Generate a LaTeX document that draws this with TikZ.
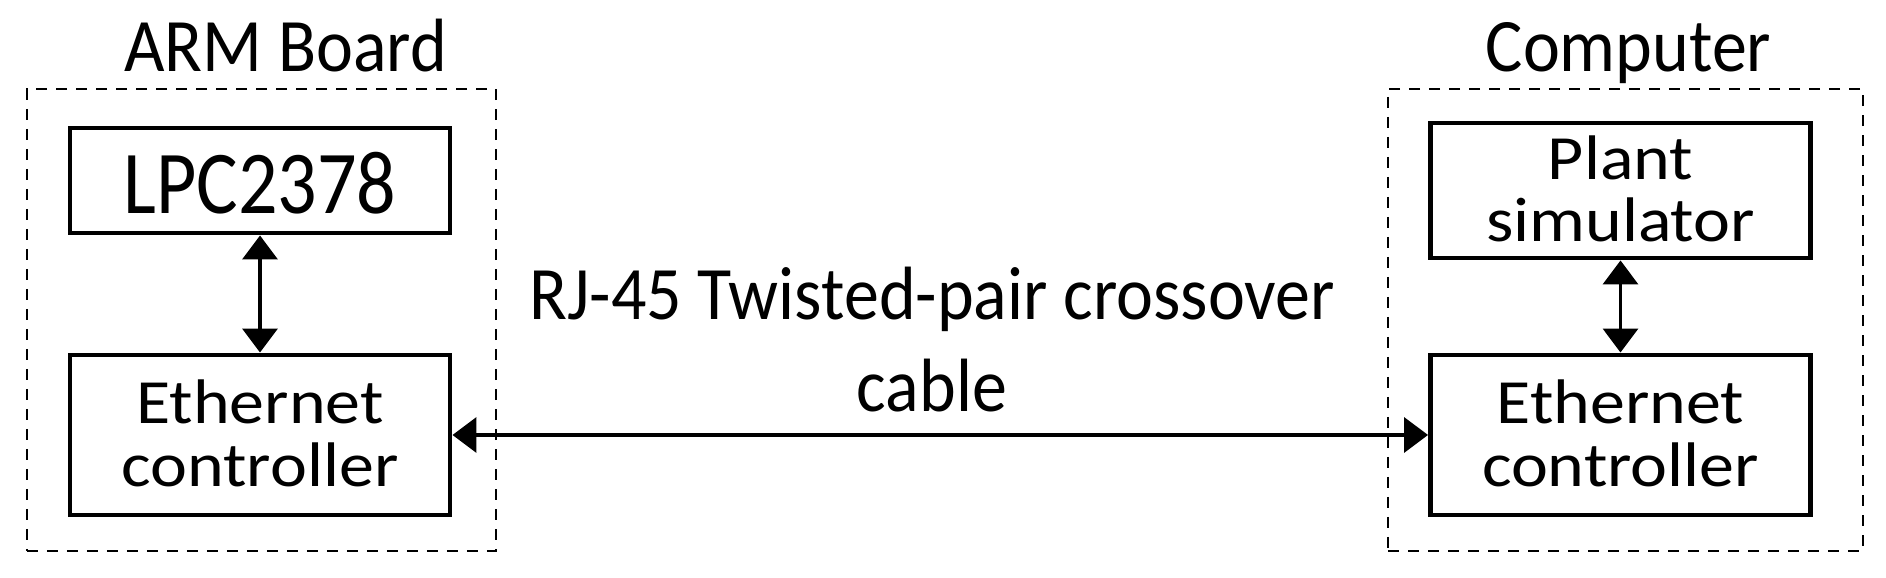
\documentclass[tikz,border=0pt]{standalone}
\usepackage{fontspec}
\setmainfont{Carlito}
\usepackage{graphicx}
\usetikzlibrary{positioning, arrows.meta}
\tikzset{
	arrow/.style={line width=2pt, <->, >={Triangle[length=0.48cm, width=0.7cm]}},
	block/.style={draw, line width=2.8pt, minimum width=7.6cm, inner sep=0pt},
	group/.style={draw, line width=1.6pt, dash pattern=on 0.22cm off 0.18cm, inner sep=0pt},
	title/.style={anchor=base, inner sep=0pt},
}
% yscale, baselineskip, lines
\newcommand{\vtext}[3]{\scalebox{1}[#1]{\fontsize{39.8}{#2}\selectfont\begin{tabular}[t]{@{}c@{}}#3\end{tabular}}}
\newcommand{\blocktext}[2]{\raisebox{-0.15cm}[\height][\depth]{\scalebox{1}[0.9]{\fontsize{39.8}{39.2}\selectfont\begin{tabular}{@{}c@{}}#1\\#2\end{tabular}}}}

\begin{document}
\begin{tikzpicture}
		\useasboundingbox (0,0) rectangle (37.72,11.56);

		% ARM board
		\node[group, minimum width=9.38cm, minimum height=9.24cm] (arm) at (5.23,5.16) {};
		\node[title] (armlabel) at (5.71,10.12) {\vtext{1.08}{48}{ARM Board}};
		\node[block, minimum height=2.1cm] (lpc) at (5.2,7.95) {\raisebox{-0.06cm}[\height][\depth]{\scalebox{1}[1.15]{\fontsize{44.4}{53}\selectfont LPC2378}}};
		\node[block, minimum height=3.2cm] (armeth) at (5.2,2.86) {\blocktext{Ethernet}{controller}};

		\draw[arrow] (lpc) -- (armeth);

		% Computer
		\node[group, minimum width=9.5cm, minimum height=9.24cm] (pc) at (32.51,5.16) {};
		\node[title] (pclabel) at (32.57,10.12) {\vtext{1.08}{48}{Computer}};
		\node[block, minimum height=2.7cm] (plant) at (32.41,7.75) {\blocktext{Plant}{simulator}};
		\node[block, minimum height=3.2cm] (pceth) at (32.41,2.86) {\blocktext{Ethernet}{controller}};

		\draw[arrow] (plant) -- (pceth);

		% Cable
		\draw[arrow] (armeth) -- (pceth);
		\node[title] (cable) at (18.64,5.16) {\vtext{1.08}{48.4}{RJ-45 Twisted-pair crossover\\cable}};
	\end{tikzpicture}
\end{document}
